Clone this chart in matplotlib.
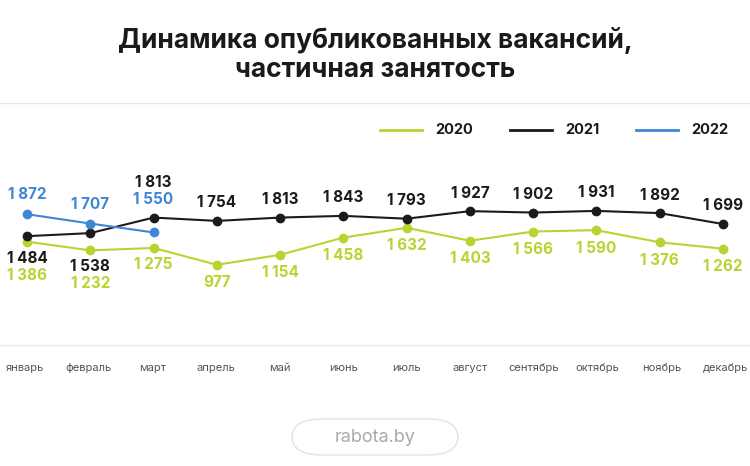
import matplotlib
matplotlib.use("Agg")
import matplotlib.pyplot as plt
from matplotlib.patches import FancyBboxPatch

months = ["январь","февраль","март","апрель","май","июнь","июль","август","сентябрь","октябрь","ноябрь","декабрь"]
v2020 = [1386,1232,1275,977,1154,1458,1632,1403,1566,1590,1376,1262]
v2021 = [1484,1538,1813,1754,1813,1843,1793,1927,1902,1931,1892,1699]
v2022 = [1872,1707,1550]
years = ["2020","2021","2022"]
colors = ["#b8d432","#1b1b1b","#3f86d6"]

def fmt(v):
    return f"{v:,}".replace(",", " ")

W,H = 750,466
fig = plt.figure(figsize=(7.5,4.66), dpi=100)
fig.patch.set_facecolor("white")
font = "Inter"
fig.text(0.5, 1-40/H, "Динамика опубликованных вакансий,", ha="center", va="center", fontsize=19, fontweight="bold", family=font, color="#1a1a1a")
fig.text(0.5, 1-70/H, "частичная занятость", ha="center", va="center", fontsize=19, fontweight="bold", family=font, color="#1a1a1a")
fig.add_artist(plt.Line2D([0,1],[1-103/H,1-103/H], color="#e6e6e6", lw=1))
fig.add_artist(plt.Line2D([0,1],[1-345/H,1-345/H], color="#e6e6e6", lw=1))

ax = fig.add_axes([0, 1-345/H, 1, 245/H])
ax.set_xlim(-25/58.33, 11+25/58.33)
ax.set_ylim(-25*17.7, 220*17.7)
ax.axis("off")
x = list(range(12))
for vals,c in zip([v2020,v2021,v2022],colors):
    xs = x[:len(vals)]
    ax.plot(xs, vals, color=c, lw=1.5, marker="o", ms=6, zorder=3)

def lab(i, v, c, dy):
    ax.annotate(fmt(v), (i, v), xytext=(0, dy), textcoords="offset points", ha="center", va="center",
                fontsize=11, fontweight="bold", color=c, family=font)

off2020 = {0: -24, 1: -24, 2: -12}
off2021 = {0: -16, 1: -24, 2: 25}
off2022 = {2: 24}
for i,v in enumerate(v2020):
    lab(i, v, colors[0], off2020.get(i, -13))
for i,v in enumerate(v2021):
    lab(i, v, colors[1], off2021.get(i, 13))
for i,v in enumerate(v2022):
    lab(i, v, colors[2], off2022.get(i, 14))

for i,m in enumerate(months):
    fig.text((25+i*700/11)/W, 1-368/H, m, ha="center", va="center", fontsize=8, color="#555555", family=font)

for (name,c,x0) in zip(years,colors,[380,510,636]):
    fig.add_artist(plt.Line2D([x0/W,(x0+42)/W],[1-130/H]*2, color=c, lw=2))
    fig.text((x0+55)/W, 1-130/H, name, va="center", ha="left", fontsize=10.5, fontweight="bold", family=font, color="#1a1a1a")

box = FancyBboxPatch((292/W, 1-455/H), 166/W, 36/H, boxstyle="round,pad=0,rounding_size=0.04",
                     transform=fig.transFigure, facecolor="white", edgecolor="#e3e3e3", lw=1)
fig.add_artist(box)
fig.text(375/W, 1-437/H, "rabota.by", ha="center", va="center", fontsize=13, color="#aaaaaa", family=font)
fig.savefig("out.png", dpi=100)
